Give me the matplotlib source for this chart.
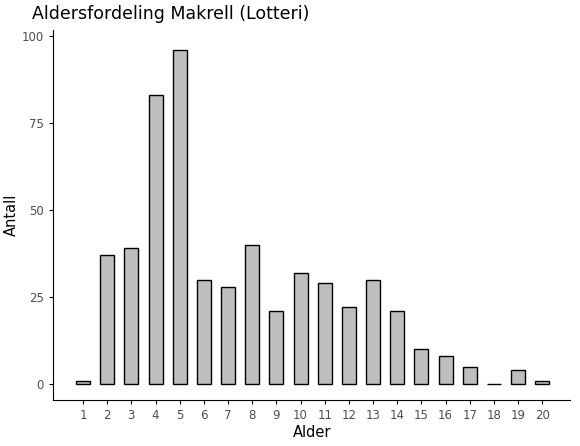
import matplotlib
matplotlib.use("Agg")
import matplotlib.pyplot as plt

ages = list(range(1, 21))
counts = [1, 37, 39, 83, 96, 30, 28, 40, 21, 32, 29, 22, 30, 21, 10, 8, 5, 0, 4, 1]

fig = plt.figure(figsize=(5.8, 4.46), dpi=100)
ax = fig.add_axes([0.0914, 0.103, 0.892, 0.830])
ax.bar(ages, counts, width=0.58, color="#bebebe", edgecolor="black", linewidth=1)
ax.set_xlim(-0.24, 21.16)
ax.set_ylim(-4.6, 101.7)
ax.set_xticks(ages)
ax.set_yticks([0, 25, 50, 75, 100])
for s in ["top", "right"]:
    ax.spines[s].set_visible(False)
ax.tick_params(labelsize=8.5, colors="#4d4d4d", length=3)
ax.tick_params(color="black")
ax.set_xlabel("Alder", fontsize=10.5, labelpad=2)
ax.set_ylabel("Antall", fontsize=10.5, labelpad=2)
ax.set_title("Aldersfordeling Makrell (Lotteri)", loc="left", fontsize=12.5, x=-0.04, pad=8)
fig.savefig("out.png", dpi=100)
